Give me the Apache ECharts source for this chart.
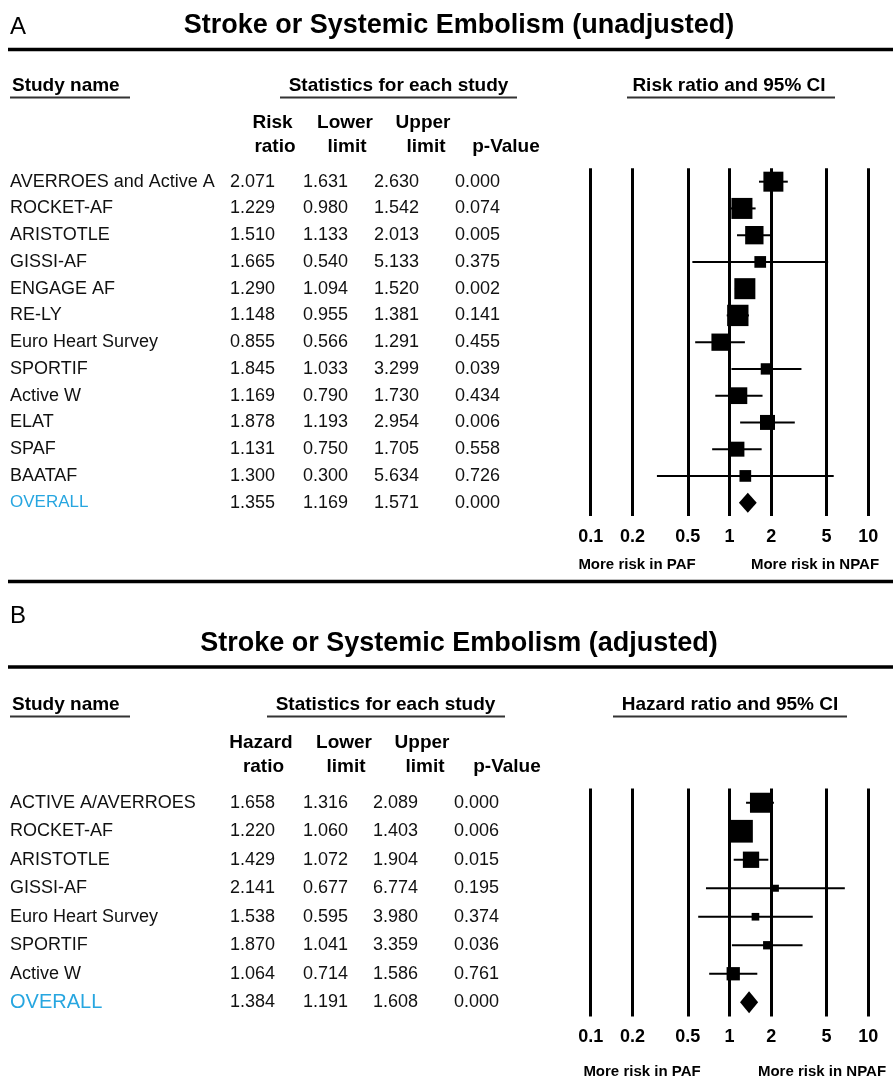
<!DOCTYPE html>
<html><head><meta charset="utf-8">
<script src="https://cdn.jsdelivr.net/npm/echarts@6/dist/echarts.min.js"></script>
<style>html,body{margin:0;padding:0;background:#fff}#c{width:893px;height:1089px}</style>
</head><body><div id="c"></div>
<script>
// ---------------- DATA ----------------
// Panel A: Stroke or Systemic Embolism (unadjusted)
const titleA = 'Stroke or Systemic Embolism (unadjusted)';
const studiesA = ['AVERROES and Active A','ROCKET-AF','ARISTOTLE','GISSI-AF','ENGAGE AF','RE-LY','Euro Heart Survey','SPORTIF','Active W','ELAT','SPAF','BAATAF','OVERALL'];
const ratioA = [2.071,1.229,1.510,1.665,1.290,1.148,0.855,1.845,1.169,1.878,1.131,1.300,1.355];
const lowerA = [1.631,0.980,1.133,0.540,1.094,0.955,0.566,1.033,0.790,1.193,0.750,0.300,1.169];
const upperA = [2.630,1.542,2.013,5.133,1.520,1.381,1.291,3.299,1.730,2.954,1.705,5.634,1.571];
const pA     = [0.000,0.074,0.005,0.375,0.002,0.141,0.455,0.039,0.434,0.006,0.558,0.726,0.000];
// relative study weights (%)
const weightA = [11.4,12.6,9.6,3.9,12.6,13.0,8.5,3.7,8.0,6.4,6.4,3.9];
const colHeadA = [['Risk','ratio'],['Lower','limit'],['Upper','limit'],['','p-Value']];
const plotHeadA = 'Risk ratio and 95% CI';

// Panel B: Stroke or Systemic Embolism (adjusted)
const titleB = 'Stroke or Systemic Embolism (adjusted)';
const studiesB = ['ACTIVE A/AVERROES','ROCKET-AF','ARISTOTLE','GISSI-AF','Euro Heart Survey','SPORTIF','Active W','OVERALL'];
const ratioB = [1.658,1.220,1.429,2.141,1.538,1.870,1.064,1.384];
const lowerB = [1.316,1.060,1.072,0.677,0.595,1.041,0.714,1.191];
const upperB = [2.089,1.403,1.904,6.774,3.980,3.359,1.586,1.608];
const pB     = [0.000,0.006,0.015,0.195,0.374,0.036,0.761,0.000];
const weightB = [26.1,33.6,17.3,3.2,3.8,4.5,11.5];
const colHeadB = [['Hazard','ratio'],['Lower','limit'],['Upper','limit'],['','p-Value']];
const plotHeadB = 'Hazard ratio and 95% CI';

const tickValues = [0.1,0.2,0.5,1,2,5,10];
const tickLabels = ['0.1','0.2','0.5','1','2','5','10'];
const favourLabels = ['More risk in PAF','More risk in NPAF'];

// ---------------- LAYOUT / STYLE ----------------
const FONT = "'Liberation Sans', Arial, Helvetica, sans-serif";
const INK = '#111';
const OVERALL_COLOR = '#27A6E0';
const tickLog = tickValues.map(v => Math.log10(v));

const panels = [
  {studies: studiesA, ratio: ratioA, lower: lowerA, upper: upperA, p: pA, weight: weightA,
   top: 168.3, height: 347.75, boxScale: 5.92, diamondHalf: 10, overallSize: 17,
   colRight: [275, 348, 419, 500]},
  {studies: studiesB, ratio: ratioB, lower: lowerB, upper: upperB, p: pB, weight: weightB,
   top: 788.5, height: 228, boxScale: 3.92, diamondHalf: 11, overallSize: 20,
   colRight: [275, 348, 418, 499]}
];

const grids = [], xAxes = [], yAxes = [], series = [];

panels.forEach((P, k) => {
  const g = grids.length;
  const n = P.studies.length;
  grids.push({left: 0, width: 570, top: P.top, height: P.height});
  grids.push({left: 590.7, width: 277.6, top: P.top, height: P.height});

  xAxes.push({gridIndex: g, type: 'value', min: 0, max: 570, show: false});
  xAxes.push({gridIndex: g + 1, type: 'value', min: tickLog[0], max: tickLog[tickLog.length - 1],
    axisLine: {show: false}, axisTick: {show: false}, splitLine: {show: false},
    axisLabel: {customValues: tickLog, margin: 12, fontSize: 18, fontWeight: 'bold', color: '#000', fontFamily: FONT,
      formatter: v => {
        let best = 0;
        tickLog.forEach((t, i) => { if (Math.abs(t - v) < Math.abs(tickLog[best] - v)) best = i; });
        return tickLabels[best];
      }}});

  const catData = P.studies.map((s, i) => i === n - 1
    ? {value: s, textStyle: {color: OVERALL_COLOR, fontSize: P.overallSize}} : s);
  yAxes.push({gridIndex: g, type: 'category', data: catData, inverse: true,
    axisLine: {show: false}, axisTick: {show: false}, splitLine: {show: false},
    axisLabel: {inside: true, margin: 10, interval: 0, fontSize: 18, color: INK, fontFamily: FONT}});
  yAxes.push({gridIndex: g + 1, type: 'category', data: P.studies, inverse: true, show: false});

  // table values
  series.push({type: 'custom', xAxisIndex: g, yAxisIndex: g, silent: true, animation: false,
    encode: {x: 0, y: 1},
    data: P.ratio.map((r, i) => [0, i, r, P.lower[i], P.upper[i], P.p[i]]),
    renderItem: (params, api) => {
      const row = api.value(1);
      const vals = [api.value(2), api.value(3), api.value(4), api.value(5)];
      return {type: 'group', children: P.colRight.map((cx, j) => {
        const pt = api.coord([cx, row]);
        return {type: 'text', x: pt[0], y: pt[1],
          style: {text: vals[j].toFixed(3), align: 'right', verticalAlign: 'middle',
                  fontSize: 18, fontFamily: FONT, fill: INK}};
      })};
    }});

  // confidence interval whiskers
  series.push({type: 'custom', xAxisIndex: g + 1, yAxisIndex: g + 1, silent: true, animation: false, clip: false,
    encode: {x: [0, 2], y: 1},
    data: P.lower.slice(0, n - 1).map((lo, i) => [Math.log10(lo), i, Math.log10(P.upper[i])]),
    renderItem: (params, api) => {
      const a = api.coord([api.value(0), api.value(1)]);
      const b = api.coord([api.value(2), api.value(1)]);
      return {type: 'line', shape: {x1: a[0], y1: a[1], x2: b[0], y2: b[1]},
        style: {stroke: '#000', lineWidth: 2}};
    }});

  // study boxes + reference lines
  series.push({type: 'scatter', xAxisIndex: g + 1, yAxisIndex: g + 1, silent: true, animation: false, clip: false,
    symbol: 'rect', itemStyle: {color: '#000', opacity: 1},
    data: P.ratio.slice(0, n - 1).map((r, i) => ({value: [Math.log10(r), i], symbolSize: P.boxScale * Math.sqrt(P.weight[i])})),
    markLine: {silent: true, animation: false, symbol: ['none', 'none'], label: {show: false},
      lineStyle: {color: '#000', width: 3, type: 'solid'},
      emphasis: {disabled: true},
      data: tickLog.map(t => ({xAxis: t}))}});

  // overall diamond
  series.push({type: 'custom', xAxisIndex: g + 1, yAxisIndex: g + 1, silent: true, animation: false, clip: false,
    encode: {x: [0, 2, 3], y: 1},
    data: [[Math.log10(P.lower[n - 1]), n - 1, Math.log10(P.ratio[n - 1]), Math.log10(P.upper[n - 1])]],
    renderItem: (params, api) => {
      const row = api.value(1);
      const lo = api.coord([api.value(0), row]);
      const mid = api.coord([api.value(2), row]);
      const hi = api.coord([api.value(3), row]);
      const h = P.diamondHalf;
      return {type: 'polygon', shape: {points: [[lo[0], lo[1]], [mid[0], mid[1] - h], [hi[0], hi[1]], [mid[0], mid[1] + h]]},
        style: {fill: '#000'}};
    }});
});

// ---------------- ANNOTATION TEXT ----------------
function txt(x, y, text, size, bold, align, color) {
  return {type: 'text', x, y, silent: true,
    style: {text, fontSize: size, fontWeight: bold ? 'bold' : 'normal', fontFamily: FONT,
      fill: color || '#000', align: align || 'left', verticalAlign: 'middle'}};
}
function hline(x1, x2, y, w, color) {
  return {type: 'line', silent: true, shape: {x1, y1: y, x2, y2: y},
    style: {stroke: color || '#000', lineWidth: w}};
}

const graphics = [];
function headerBlock(cfg) {
  graphics.push(txt(10, cfg.letterY, cfg.letter, 24, false, 'left'));
  graphics.push(txt(459, cfg.titleY, cfg.title, 27, true, 'center'));
  graphics.push(hline(8, 893, cfg.ruleY, 3.5));
  graphics.push(txt(12, cfg.headY, 'Study name', 19, true, 'left'));
  graphics.push(hline(10, 130, cfg.ulY, 2, '#333'));
  graphics.push(txt(cfg.statX, cfg.headY, 'Statistics for each study', 19, true, 'center'));
  graphics.push(hline(cfg.statUl[0], cfg.statUl[1], cfg.ulY, 2, '#333'));
  graphics.push(txt(cfg.plotX, cfg.headY, cfg.plotHead, 19, true, 'center'));
  graphics.push(hline(cfg.plotUl[0], cfg.plotUl[1], cfg.ulY, 2, '#333'));
  cfg.colHead.forEach((pair, j) => {
    if (pair[0]) graphics.push(txt(cfg.colX1[j], cfg.colY1, pair[0], 19, true, 'center'));
    graphics.push(txt(cfg.colX2[j], cfg.colY2, pair[1], 19, true, 'center'));
  });
  graphics.push(txt(cfg.favX[0], cfg.favY, favourLabels[0], 15, true, 'center'));
  graphics.push(txt(cfg.favX[1], cfg.favY, favourLabels[1], 15, true, 'center'));
}
headerBlock({letter: 'A', letterY: 27, title: titleA, titleY: 26, ruleY: 49.5,
  headY: 86, ulY: 97.5, statX: 398.5, statUl: [280, 517], plotX: 729, plotUl: [627, 835], plotHead: plotHeadA,
  colHead: colHeadA, colX1: [272.5, 345, 423, 0], colX2: [275, 347, 426, 506], colY1: 123, colY2: 146.5,
  favX: [637, 815], favY: 565});
headerBlock({letter: 'B', letterY: 616, title: titleB, titleY: 644, ruleY: 667,
  headY: 705, ulY: 716.5, statX: 385.5, statUl: [267, 505], plotX: 730, plotUl: [613, 847], plotHead: plotHeadB,
  colHead: colHeadB, colX1: [261, 344, 422, 0], colX2: [263.5, 346, 425, 507], colY1: 743, colY2: 766.5,
  favX: [642, 822], favY: 1072});
graphics.push(hline(8, 893, 581.5, 3.5));

const chart = echarts.init(document.getElementById('c'), null, {renderer: 'canvas'});
chart.setOption({
  animation: false,
  backgroundColor: '#fff',
  textStyle: {fontFamily: FONT},
  grid: grids, xAxis: xAxes, yAxis: yAxes, series,
  graphic: graphics
});
</script></body></html>
